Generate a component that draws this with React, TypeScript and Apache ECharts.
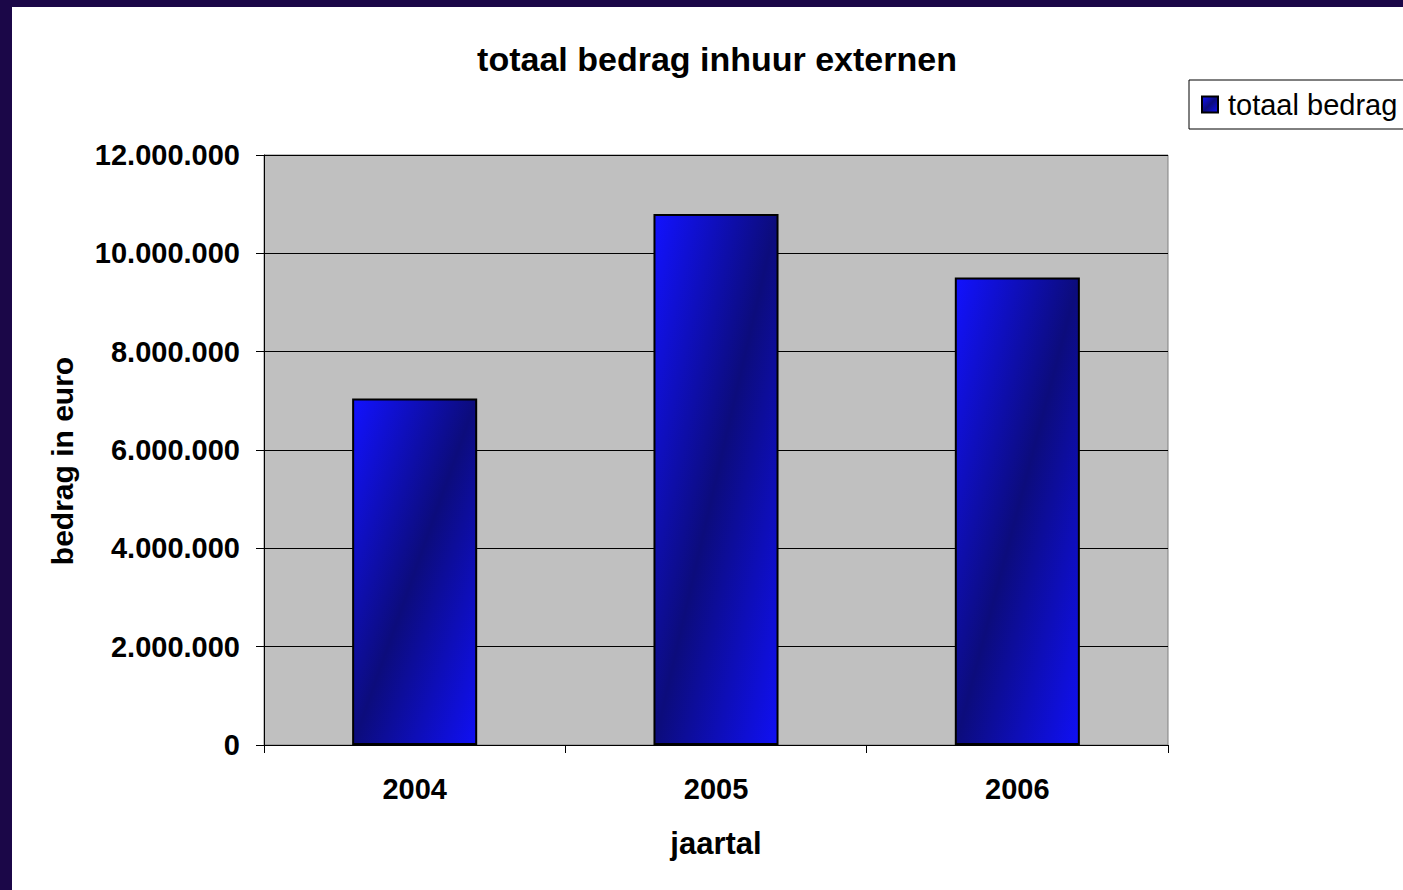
import React, { useEffect, useRef } from "react";
import * as echarts from "echarts";

const categories = ["2004", "2005", "2006"];
const values = [7050000, 10800000, 9510000];
const seriesName = "totaal bedrag";
const titleText = "totaal bedrag inhuur externen";
const yAxisTitle = "bedrag in euro";
const xAxisTitle = "jaartal";

const FONT = "'Liberation Sans', Arial, Helvetica, sans-serif";

function fmt(v: number): string {
  return String(Math.round(v)).replace(/\B(?=(\d{3})+(?!\d))/g, ".");
}

export default function App() {
  const ref = useRef<HTMLDivElement>(null);

  useEffect(() => {
    document.body.style.margin = "0";
    const chart = echarts.init(ref.current!, null, { renderer: "svg" });
    const barFill = new echarts.graphic.LinearGradient(0, 0, 1, 1, [
      { offset: 0, color: "#1212ff" },
      { offset: 0.5, color: "#0c0c7c" },
      { offset: 1, color: "#1010f4" },
    ]);
    chart.setOption({
      animation: false,
      backgroundColor: "#ffffff",
      title: {
        text: titleText,
        left: 700,
        top: 30,
        textAlign: "center",
        textStyle: {
          fontFamily: FONT,
          fontSize: 34,
          fontWeight: "bold",
          color: "#000",
        },
      },
      legend: {
        left: 1177,
        top: 73,
        orient: "vertical",
        padding: [9, 12, 9, 12],
        borderColor: "#000",
        borderWidth: 1,
        borderRadius: 0,
        itemWidth: 16,
        itemHeight: 16,
        icon: "rect",
        data: [seriesName],
        textStyle: {
          fontFamily: FONT,
          fontSize: 29,
          color: "#000",
          lineHeight: 31,
          padding: [0, 0, 0, 5],
        },
      },
      grid: {
        left: 252,
        top: 148,
        width: 904,
        height: 590,
        show: true,
        backgroundColor: "#c0c0c0",
        borderColor: "#808080",
        borderWidth: 1,
      },
      xAxis: {
        type: "category",
        data: categories,
        boundaryGap: true,
        axisLine: { show: true, lineStyle: { color: "#000", width: 1 } },
        axisTick: {
          show: true,
          alignWithLabel: false,
          length: 8,
          lineStyle: { color: "#000", width: 1 },
        },
        axisLabel: {
          margin: 29,
          fontFamily: FONT,
          fontSize: 29,
          fontWeight: "bold",
          color: "#000",
        },
      },
      yAxis: {
        type: "value",
        min: 0,
        max: 12000000,
        interval: 2000000,
        axisLine: { show: true, lineStyle: { color: "#000", width: 1 } },
        axisTick: {
          show: true,
          length: 8,
          lineStyle: { color: "#000", width: 1 },
        },
        splitLine: { show: true, lineStyle: { color: "#000", width: 1 } },
        axisLabel: {
          margin: 24,
          fontFamily: FONT,
          fontSize: 29,
          fontWeight: "bold",
          color: "#000",
          formatter: (v: number) => fmt(v),
        },
      },
      graphic: [
        {
          type: "text",
          x: 50,
          y: 454,
          rotation: Math.PI / 2,
          style: {
            text: yAxisTitle,
            fontFamily: FONT,
            fontSize: 30,
            fontWeight: "bold",
            fill: "#000",
            align: "center",
            verticalAlign: "middle",
          },
        },
        {
          type: "text",
          x: 704,
          y: 836,
          style: {
            text: xAxisTitle,
            fontFamily: FONT,
            fontSize: 31,
            fontWeight: "bold",
            fill: "#000",
            align: "center",
            verticalAlign: "middle",
          },
        },
      ],
      series: [
        {
          name: seriesName,
          type: "bar",
          data: values,
          barWidth: "41.5%",
          itemStyle: {
            color: barFill,
            borderColor: "#000",
            borderWidth: 2,
          },
        },
      ],
    });
    return () => chart.dispose();
  }, []);

  return (
    <div
      style={{
        position: "fixed",
        left: 0,
        top: 0,
        width: 1403,
        height: 890,
        background: "#1b0748",
        overflow: "hidden",
      }}
    >
      <div
        ref={ref}
        style={{
          position: "absolute",
          left: 12,
          top: 7,
          width: 1391,
          height: 883,
        }}
      />
    </div>
  );
}
